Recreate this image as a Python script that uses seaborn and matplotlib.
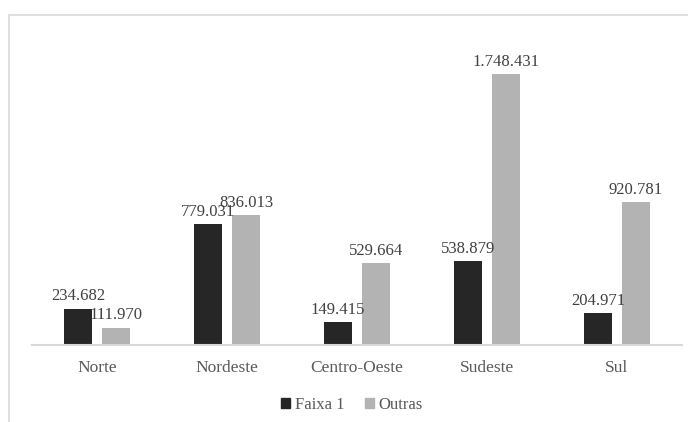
import matplotlib
matplotlib.use('Agg')
import matplotlib.pyplot as plt
import seaborn as sns
import pandas as pd
from matplotlib.patches import Rectangle

regioes = ["Norte", "Nordeste", "Centro-Oeste", "Sudeste", "Sul"]
faixa1 = [234682, 779031, 149415, 538879, 204971]
outras = [111970, 836013, 529664, 1748431, 920781]
series = ["Faixa 1", "Outras"]
cores = {"Faixa 1": "#262626", "Outras": "#b3b3b3"}

def fmt(v):
    return f"{v:,}".replace(",", ".")

df = pd.DataFrame({
    "regiao": regioes * 2,
    "valor": faixa1 + outras,
    "serie": [series[0]] * len(regioes) + [series[1]] * len(regioes),
})

sns.set_style("white")
plt.rcParams['font.family'] = ['Liberation Serif', 'DejaVu Serif']

fig = plt.figure(figsize=(6.88, 4.22), dpi=100)
ax = fig.add_axes([32 / 688, 77 / 422, 650 / 688, 310 / 422])

sns.barplot(data=df, x="regiao", y="valor", hue="serie", palette=cores,
            width=0.585, gap=0.24, ax=ax, saturation=1, linewidth=0)

ax.set_ylim(0, 2000000)
ax.set_xlim(-0.5, len(regioes) - 0.5)
ax.set_xlabel("")
ax.set_ylabel("")
ax.set_yticks([])
for s in ["top", "left", "right"]:
    ax.spines[s].set_visible(False)
ax.spines["bottom"].set_color("#d9d9d9")
ax.spines["bottom"].set_linewidth(1.5)
ax.tick_params(axis="x", length=0, pad=11, labelsize=12.5, labelcolor="#595959")

# value labels
for cont in ax.containers:
    for bar in cont:
        h = bar.get_height()
        ax.annotate(fmt(int(round(h))), (bar.get_x() + bar.get_width() / 2, h),
                    xytext=(0, 3), textcoords="offset points",
                    ha="center", va="bottom", fontsize=12, color="#404040")

ax.legend_.remove()
handles = [Rectangle((0, 0), 1, 1, color=cores[s]) for s in series]
fig.legend(handles, series, loc="center", bbox_to_anchor=(352 / 688, 1 - 405 / 422),
           ncol=2, frameon=False, handlelength=0.55, handleheight=0.55,
           handletextpad=0.3, columnspacing=1.2, fontsize=12, labelcolor="#595959")

# chart frame (partly cut off at right and bottom)
fig.patches.append(Rectangle((9 / 688, -0.1), 1.2, 1 - 15 / 422 + 0.1,
                             transform=fig.transFigure, fill=False,
                             edgecolor="#d9d9d9", linewidth=1.2))

fig.savefig("out.png", dpi=100)
